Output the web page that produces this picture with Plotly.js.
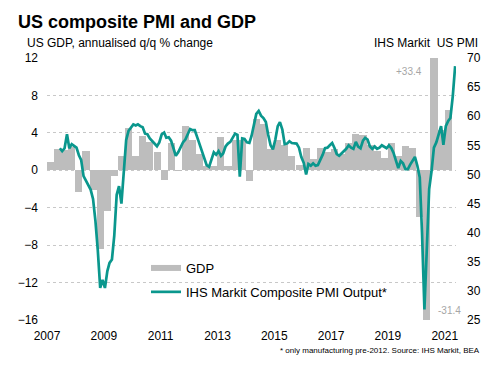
<!DOCTYPE html>
<html>
<head>
<meta charset="utf-8">
<script src="https://cdn.plot.ly/plotly-3.0.1.min.js"></script>
<style>html,body{margin:0;padding:0;background:#fff;}#chart{width:504px;height:374px;}</style>
</head>
<body>
<div id="chart"></div>
<script>
// US real GDP, annualised q/q % change, quarterly from 2007 Q1
const gdpStart = [2007, 1];
const gdpValues = [
  0.9, 2.3, 2.2, 2.5,
  -2.3, 2.1, -2.1, -8.4,
  -4.4, -0.6, 1.5, 4.5,
  1.5, 3.7, 3.0, 2.0,
  -1.0, 2.9, -0.1, 4.7,
  3.2, 1.7, 0.5, 0.5,
  3.6, 0.5, 3.2, 3.2,
  -1.1, 5.5, 5.0, 2.3,
  3.2, 2.7, 1.5, 0.6,
  2.4, 1.2, 2.4, 2.0,
  2.3, 1.7, 2.9, 3.9,
  3.8, 2.7, 2.1, 1.3,
  2.9, 1.5, 2.6, 2.4,
  -5.0, -31.4, 33.4, 4.3,
  6.4
];
// IHS Markit composite PMI output (manufacturing only pre-2012), monthly from June 2007
const pmiStart = [2007, 6];
const pmiValues = [
  54.5, 54.0, 54.5, 56.9, 54.5, 55.2, 54.9,
  54.6, 53.3, 52.5, 49.7, 48.9, 48.3, 47.4, 45.8, 42.0, 37.0, 30.5, 31.9,
  30.5, 33.4, 34.8, 35.4, 39.5, 46.5, 48.0, 45.0, 50.5, 55.9, 57.5, 58.0,
  58.6, 58.4, 58.6, 58.3, 58.1, 57.0, 56.9, 56.2, 55.7, 55.2, 54.85, 55.5,
  56.9, 57.2, 56.3, 56.4, 55.8, 54.5, 53.2, 53.8, 54.6, 55.5, 56.0, 56.9,
  57.8, 57.6, 57.6, 56.4, 55.2, 54.2, 53.0, 51.6, 51.3, 52.6, 53.8, 53.4,
  54.0, 53.2, 53.6, 54.8, 55.3, 55.6, 56.3, 57.0, 56.8, 49.6, 56.2, 56.1,
  55.5, 55.4, 56.6, 58.3, 60.4, 60.9, 60.1, 59.7, 59.0, 56.8, 55.0, 54.3,
  56.0, 58.3, 59.0, 57.7, 55.2, 55.3, 55.7, 55.4, 55.4, 55.3, 54.6, 53.0,
  52.0, 50.0, 51.8, 51.5, 51.9, 51.5, 51.6, 52.4, 53.4, 54.5, 54.6, 55.0,
  55.4, 54.5, 53.5, 53.2, 53.6, 54.0, 54.4, 55.0, 54.6, 54.4, 55.6, 54.8,
  54.5, 55.8, 56.3, 56.0, 54.8, 54.4, 54.8, 54.4, 54.6, 55.0, 54.7, 54.5,
  55.0, 54.5, 53.7, 52.4, 51.1, 52.3, 51.9, 50.9, 50.9, 51.7, 52.4, 53.0,
  51.5, 49.5, 40.0, 26.8, 37.0, 47.5, 50.5, 54.6, 55.5, 56.8, 58.3, 55.1,
  58.3, 59.2, 59.7, 63.5, 68.6
];
const yearTicks = ['2007','2009','2011','2013','2015','2017','2019','2021'];

function pad(n){return (n<10?'0':'')+n;}
const gdpDates = gdpValues.map((v,i)=>{
  const q = gdpStart[1]-1+i; const y = gdpStart[0]+Math.floor(q/4); const m = (q%4)*3+1;
  return y+'-'+pad(m)+'-01';
});
const pmiDates = pmiValues.map((v,i)=>{
  const k = pmiStart[1]-1+i; const y = pmiStart[0]+Math.floor(k/12); const m = k%12+1;
  return y+'-'+pad(m)+'-15';
});

const FONT = 'Liberation Sans, Arial, sans-serif';
const GREY = '#bdbdbd';
const TEAL = '#0a978d';
const xRange = ['2007-01-01','2021-05-26'];

const traces = [
  {type:'bar', x:gdpDates, y:gdpValues, xperiod:'M3', xperiodalignment:'middle',
   marker:{color:GREY, line:{width:0}}, yaxis:'y', xaxis:'x', showlegend:false, hoverinfo:'x+y'},
  {type:'scatter', mode:'lines', x:[null], y:[null], name:'GDP', legendgroup:'a',
   line:{color:GREY, width:6}, yaxis:'y', xaxis:'x'},
  {type:'scatter', mode:'lines', x:pmiDates, y:pmiValues, name:'IHS Markit Composite PMI Output*', legendgroup:'b',
   line:{color:TEAL, width:2.7}, yaxis:'y2', xaxis:'x'}
];

const layout = {
  width:504, height:374,
  margin:{l:47, r:48, t:58, b:54, pad:0},
  paper_bgcolor:'#fff', plot_bgcolor:'#fff',
  font:{family:FONT, size:12, color:'#000'},
  bargap:0,
  title:{text:'<b>US composite PMI and GDP</b>', font:{family:FONT, size:18, color:'#000'},
         x:18/504, xanchor:'left', xref:'container', y:1-21.5/374, yanchor:'middle', yref:'container'},
  xaxis:{type:'date', range:xRange, tickmode:'array', tickvals:yearTicks.map(y=>y+'-01-01'), ticktext:yearTicks,
         ticks:'', showgrid:false, showline:false, zeroline:false, tickfont:{size:12, color:'#000'}, ticklabelstandoff:7},
  xaxis2:{type:'date', range:xRange, overlaying:'x', anchor:'free', position:16/28, side:'bottom',
          tick0:'2007-01-01', dtick:'M12', ticks:'outside', ticklen:4, tickcolor:'#808080', tickwidth:1,
          showticklabels:false, showline:true, linecolor:'#808080', linewidth:1, showgrid:false, zeroline:false},
  yaxis:{range:[-16,12], tick0:0, dtick:4, showgrid:true, gridcolor:'#c8c8c8', griddash:'dot', gridwidth:1,
         zeroline:false, showline:false, ticks:'', tickfont:{size:12, color:'#000'}, ticklabelstandoff:8},
  yaxis2:{range:[25,70], tick0:25, dtick:5, overlaying:'y', side:'right', showgrid:false, zeroline:false,
          showline:false, ticks:'', tickfont:{size:12, color:'#000'}, ticklabelstandoff:10},
  legend:{x:(146-47)/409, xanchor:'left', y:(320-253)/262, yanchor:'top', bgcolor:'rgba(0,0,0,0)',
          font:{size:13, color:'#000'}, tracegroupgap:4, traceorder:'grouped'},
  annotations:[
    {text:'US GDP, annualised q/q % change', xref:'paper', yref:'paper', x:(25-47)/409, y:(320-43)/262,
     xanchor:'left', yanchor:'middle', showarrow:false, font:{size:12, color:'#000'}},
    {text:'IHS Markit  US PMI', xref:'paper', yref:'paper', x:(480-47)/409, y:(320-43)/262,
     xanchor:'right', yanchor:'middle', showarrow:false, font:{size:12, color:'#000'}},
    {text:'* only manufacturing pre-2012. Source: IHS Markit, BEA', xref:'paper', yref:'paper', x:(482-47)/409, y:(320-350)/262,
     xanchor:'right', yanchor:'middle', showarrow:false, font:{size:8, color:'#000'}},
    {text:'+33.4', xref:'x', yref:'y', x:gdpDates[54], y:10.6, xanchor:'right', yanchor:'middle', xshift:-6,
     showarrow:false, font:{size:10, color:'#a6a6a6'}},
    {text:'-31.4', xref:'x', yref:'y', x:gdpDates[54], y:-15.0, xanchor:'left', yanchor:'middle', xshift:6,
     showarrow:false, font:{size:10, color:'#a6a6a6'}}
  ]
};

Plotly.newPlot('chart', traces, layout, {displayModeBar:false, staticPlot:true});
</script>
</body>
</html>
